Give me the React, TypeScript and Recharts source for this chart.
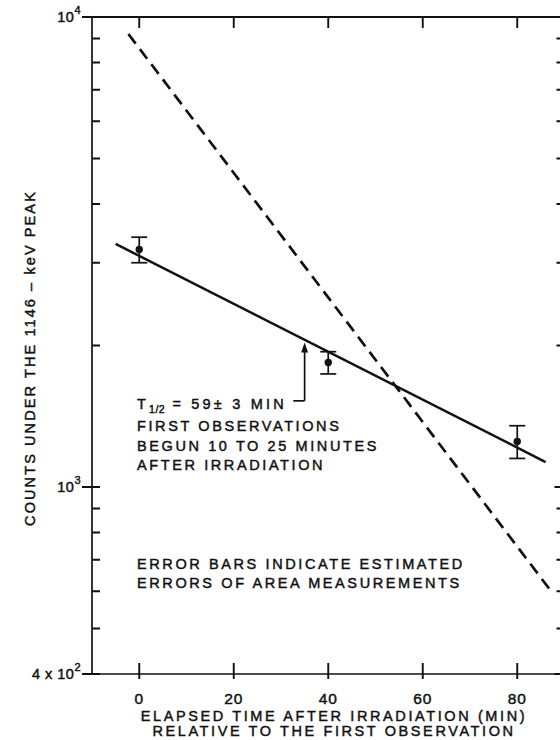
import React from "react";
import {
  ComposedChart,
  XAxis,
  YAxis,
  Scatter,
  Line,
  ErrorBar,
  ReferenceLine,
  ReferenceDot,
  Customized,
} from "recharts";

// measured points (minutes after first observation, counts)
const times = [0, 40, 80];
const counts = [3200, 1840, 1250];
const countErrors = [200, 100, 100];

// fitted decay line (solid) and dashed comparison line
const fitTimes = [-5, 86];
const fitCounts = [3290, 1130];
const dashTimes = [-2.3, 87.5];
const dashCounts = [9200, 594];

const X_MIN = -10;
const X_MAX = 90;
const Y_MIN = 400;
const Y_MAX = 10000;
const xTicks = [0, 20, 40, 60, 80];
const yTicks = [
  400, 500, 600, 700, 800, 900, 1000, 2000, 3000, 4000, 5000, 6000, 7000,
  8000, 9000, 10000,
];
const majorY: Record<number, [string, string]> = {
  10000: ["10", "4"],
  1000: ["10", "3"],
  400: ["4 x 10", "2"],
};

const FONT = "'Liberation Sans', Arial, sans-serif";
const INK = "#111";
const txt = {
  fontSize: 14.5,
  fontFamily: FONT,
  fill: INK,
  stroke: INK,
  strokeWidth: 0.45,
  letterSpacing: 2.6,
} as const;

const W = 600;
const H = 740;
const margin = { top: 17, right: 35.5, bottom: 36, left: 32 };
const Y_AXIS_W = 60;
const X_AXIS_H = 30;
const plot = {
  left: margin.left + Y_AXIS_W,
  right: W - margin.right,
  top: margin.top,
  bottom: H - margin.bottom - X_AXIS_H,
};
// same mapping the chart axes use (linear x, log y), for the frame ticks
const px = (t: number) => plot.left + ((t - X_MIN) / (X_MAX - X_MIN)) * (plot.right - plot.left);
const py = (v: number) =>
  plot.top + (Math.log10(Y_MAX / v) / Math.log10(Y_MAX / Y_MIN)) * (plot.bottom - plot.top);

const points = times.map((t, i) => ({ t, v: counts[i], err: countErrors[i] }));
const fitLine = fitTimes.map((t, i) => ({ t, v: fitCounts[i] }));
const dashLine = dashTimes.map((t, i) => ({ t, v: dashCounts[i] }));

const LeftTick = (props: any) => {
  const { x, y, payload } = props;
  const lab = majorY[payload.value];
  if (!lab) return <g />;
  return (
    <text x={x - 11} y={y + 5} textAnchor="end" {...txt} letterSpacing={0.5}>
      {lab[0]}
      <tspan fontSize={11} dy={-8}>{lab[1]}</tspan>
    </text>
  );
};

const BottomTick = (props: any) => {
  const { x, y, payload } = props;
  return (
    <text x={x} y={y + 30} textAnchor="middle" {...txt} fontSize={15.5} letterSpacing={1}>
      {payload.value}
    </text>
  );
};

const Frame = () => {
  let d = `M${plot.left},${plot.top}H${plot.right}`;
  xTicks.forEach((t) => {
    const x = px(t);
    d += `M${x},${plot.bottom - 11}V${plot.bottom + 5}M${x},${plot.top}V${plot.top + 11}`;
  });
  yTicks.forEach((v) => {
    const y = py(v);
    const major = !!majorY[v];
    d += `M${plot.left - (major ? 10 : 0)},${y}H${plot.left + 8}`;
    d += `M${plot.right - (major ? 10 : 8)},${y}H${plot.right + 8}`;
  });
  return <path d={d} stroke={INK} strokeWidth={1.9} fill="none" />;
};

const ArrowHead = (props: any) => {
  const { cx, cy } = props;
  return <polygon points={`${cx},${cy} ${cx - 3.5},${cy + 10} ${cx + 3.5},${cy + 10}`} fill={INK} />;
};

const Notes = () => (
  <g>
    <Frame />
    <text x={137} y={409} {...txt} letterSpacing={3.2}>
      T<tspan fontSize={10.5} dy={4} letterSpacing={0.5}>1/2</tspan>
      <tspan dy={-4}>{"  = 59\u00b1 3 MIN"}</tspan>
    </text>
    <text x={137} y={431} {...txt}>FIRST OBSERVATIONS</text>
    <text x={137} y={451} {...txt}>BEGUN 10 TO 25 MINUTES</text>
    <text x={137} y={470} {...txt}>AFTER IRRADIATION</text>
    <text x={137} y={569} {...txt}>ERROR BARS INDICATE ESTIMATED</text>
    <text x={137} y={588} {...txt}>ERRORS OF AREA MEASUREMENTS</text>
    <text x={334} y={721} textAnchor="middle" {...txt}>ELAPSED TIME AFTER IRRADIATION (MIN)</text>
    <text x={334} y={736} textAnchor="middle" {...txt}>RELATIVE TO THE FIRST OBSERVATION</text>
    <text x={0} y={0} transform="translate(35,358) rotate(-90)" textAnchor="middle" {...txt} letterSpacing={2.1}>
      COUNTS UNDER THE 1146 – keV PEAK
    </text>
  </g>
);

const ax = { xAxisId: "b", yAxisId: "l", isAnimationActive: false } as const;

export default function App() {
  return (
    <div
      style={{
        position: "absolute",
        left: 0,
        top: 0,
        width: 560,
        height: 740,
        overflow: "hidden",
        background: "#fff",
      }}
    >
      <ComposedChart width={W} height={H} margin={margin}>
        <XAxis
          xAxisId="b"
          dataKey="t"
          type="number"
          domain={[X_MIN, X_MAX]}
          ticks={xTicks}
          height={X_AXIS_H}
          tickSize={0}
          tickMargin={0}
          tickLine={false}
          axisLine={{ stroke: INK, strokeWidth: 1.7 }}
          tick={<BottomTick />}
          allowDataOverflow
        />
        <YAxis
          yAxisId="l"
          dataKey="v"
          scale="log"
          domain={[Y_MIN, Y_MAX]}
          ticks={yTicks}
          width={Y_AXIS_W}
          tickSize={0}
          tickMargin={0}
          tickLine={false}
          axisLine={{ stroke: INK, strokeWidth: 1.7 }}
          tick={<LeftTick />}
          allowDataOverflow
        />
        <Line
          {...ax}
          data={dashLine}
          dataKey="v"
          type="linear"
          stroke={INK}
          strokeWidth={2.7}
          strokeDasharray="12 7"
          dot={false}
        />
        <Line {...ax} data={fitLine} dataKey="v" type="linear" stroke={INK} strokeWidth={2.5} dot={false} />
        <Scatter
          {...ax}
          data={points}
          dataKey="v"
          fill={INK}
          shape={(p: any) => <circle cx={p.cx} cy={p.cy} r={3.7} fill={INK} />}
        >
          <ErrorBar dataKey="err" direction="y" width={8} stroke={INK} strokeWidth={1.7} isAnimationActive={false} />
        </Scatter>
        <ReferenceLine xAxisId="b" yAxisId="l" stroke={INK} strokeWidth={1.7} segment={[{ x: 35, y: 1990 }, { x: 35, y: 1525 }]} />
        <ReferenceLine xAxisId="b" yAxisId="l" stroke={INK} strokeWidth={1.7} segment={[{ x: 35, y: 1525 }, { x: 32.6, y: 1525 }]} />
        <ReferenceDot xAxisId="b" yAxisId="l" x={35} y={2030} shape={<ArrowHead />} />
        <Customized component={<Notes />} />
      </ComposedChart>
    </div>
  );
}
